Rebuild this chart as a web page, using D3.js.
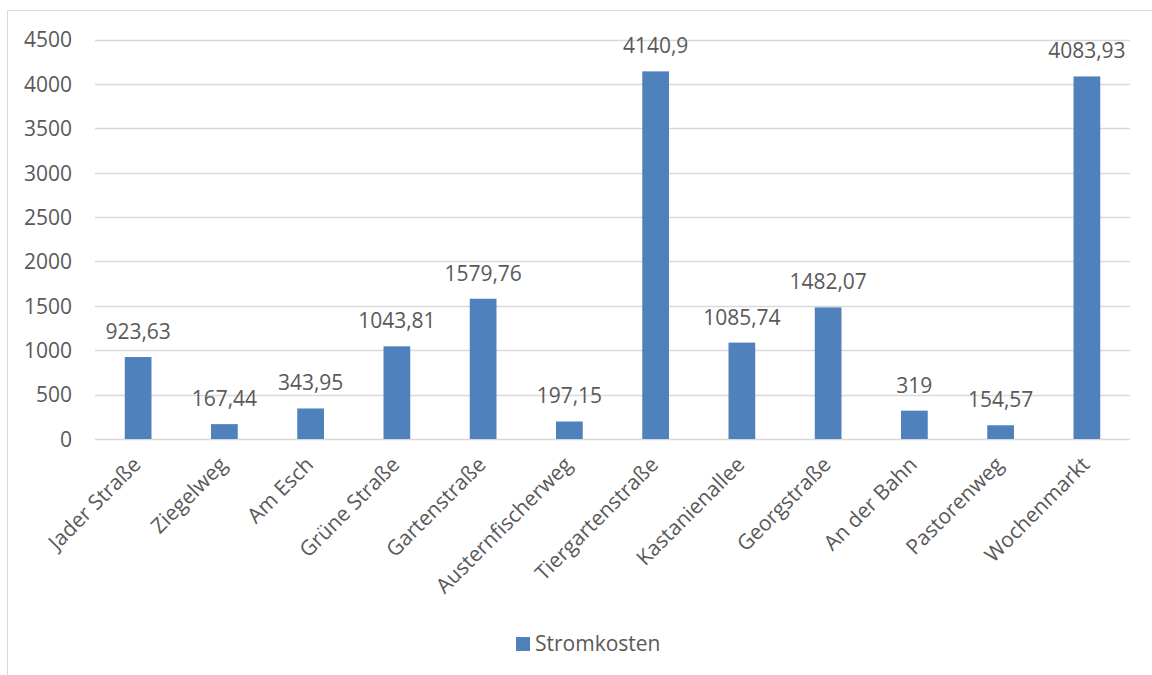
<!DOCTYPE html>
<html><head><meta charset="utf-8">
<script src="https://cdn.jsdelivr.net/npm/d3@7"></script>
<style>body{margin:0;background:#fff}svg{display:block}text{font-family:"Open Sans","Noto Sans",sans-serif;fill:#595959}</style>
</head><body><svg id="c" width="1152" height="675"></svg>
<script>
const categories = ["Jader Straße","Ziegelweg","Am Esch","Grüne Straße","Gartenstraße","Austernfischerweg","Tiergartenstraße","Kastanienallee","Georgstraße","An der Bahn","Pastorenweg","Wochenmarkt"];
const values = [923.63,167.44,343.95,1043.81,1579.76,197.15,4140.9,1085.74,1482.07,319,154.57,4083.93];
const valueLabels = ["923,63","167,44","343,95","1043,81","1579,76","197,15","4140,9","1085,74","1482,07","319","154,57","4083,93"];
const yTicks = [0,500,1000,1500,2000,2500,3000,3500,4000,4500];
const seriesName = "Stromkosten";

const svg = d3.select("#c");
svg.append("rect").attr("x",7.5).attr("y",10.5).attr("width",1160).attr("height",700)
  .attr("fill","none").attr("stroke","#d9d9d9").attr("stroke-width",1);

const x = d3.scaleBand().domain(categories).range([95,1130]).paddingInner(0.69).paddingOuter(0.345);
const y = d3.scaleLinear().domain([0,4500]).range([439,39.5]);

const grid = svg.append("g");
grid.selectAll("line").data(yTicks).join("line")
  .attr("x1",95).attr("x2",1130).attr("y1",d=>Math.round(y(d))+0.5).attr("y2",d=>Math.round(y(d))+0.5)
  .attr("stroke","#d9d9d9").attr("stroke-width",1.3);

const yAxis = svg.append("g").attr("transform","translate(72,0)")
  .call(d3.axisLeft(y).tickValues(yTicks).tickFormat(d=>String(d)).tickSize(0).tickPadding(0));
yAxis.select(".domain").remove();
yAxis.selectAll("text").attr("font-size",21).attr("font-family",null).attr("fill","#595959").attr("dy","0.35em");

svg.append("g").selectAll("rect").data(values).join("rect")
  .attr("x",(d,i)=>x(categories[i])).attr("width",x.bandwidth())
  .attr("y",d=>y(d)).attr("height",d=>y(0)-y(d)).attr("fill","#4f81bd");

svg.append("g").selectAll("text").data(values).join("text")
  .attr("x",(d,i)=>x(categories[i])+x.bandwidth()/2).attr("y",d=>y(d)-18)
  .attr("text-anchor","middle").attr("font-size",21).text((d,i)=>valueLabels[i]);

const xAxis = svg.append("g").attr("transform","translate(0,439)")
  .call(d3.axisBottom(x).tickSize(0).tickPadding(0));
xAxis.select(".domain").remove();
xAxis.selectAll("text").attr("font-size",21).attr("font-family",null).attr("fill","#595959")
  .attr("text-anchor","end").attr("dy",null).attr("y",0)
  .attr("transform","translate(4,27) rotate(-45)");

const lg = svg.append("g");
lg.append("rect").attr("x",516).attr("y",637).attr("width",14).attr("height",14).attr("fill","#4f81bd");
lg.append("text").attr("x",535).attr("y",651).attr("font-size",21).text(seriesName);
</script></body></html>
